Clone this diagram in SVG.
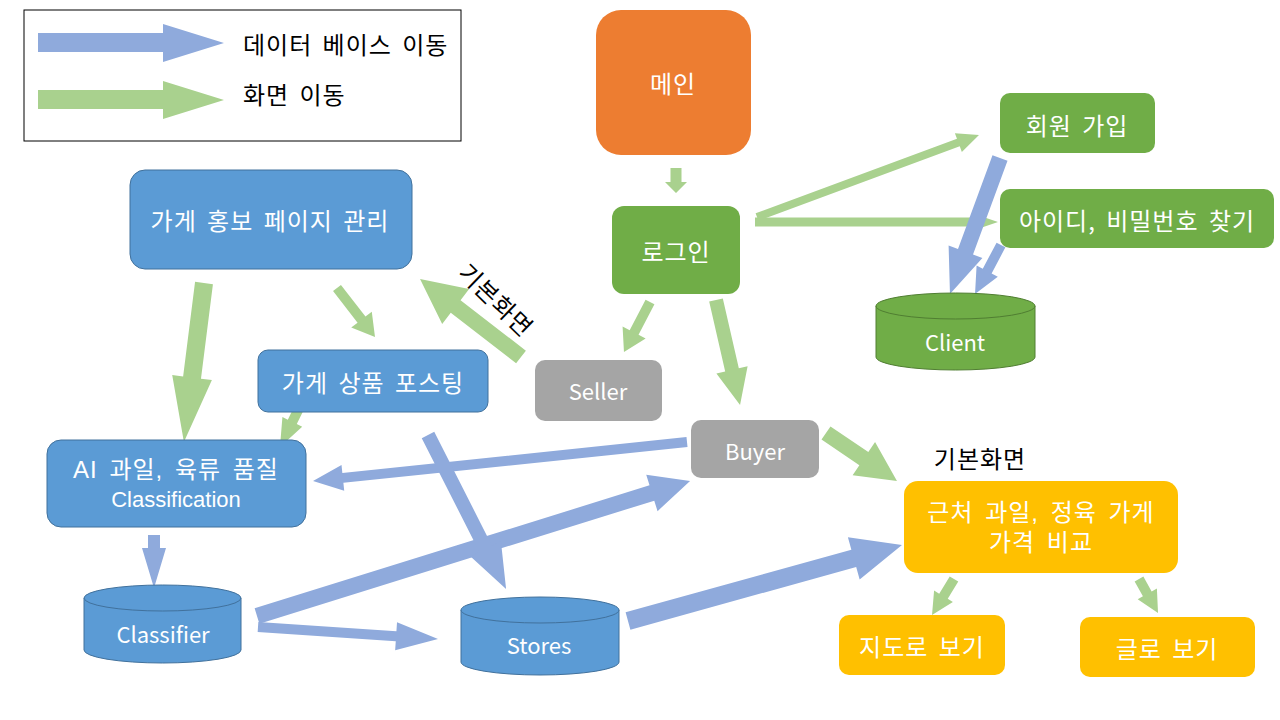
<svg xmlns="http://www.w3.org/2000/svg" width="1280" height="720" viewBox="0 0 1280 720">
<style>
text{font-family:"Noto Sans CJK KR","Noto Sans",sans-serif;font-size:24px;fill:#fff;text-anchor:middle;dominant-baseline:central;letter-spacing:1px;word-spacing:4px}
.two{font-family:"Liberation Sans","Noto Sans CJK KR",sans-serif}
.dark{fill:#000}
.lg{text-anchor:start}
.g{fill:#A9D18E}
.b{fill:#8FAADC}
.blue{fill:#5B9BD5;stroke:#41719C;stroke-width:1}
.green{fill:#70AD47}
.gcyl{fill:#70AD47;stroke:#507E32;stroke-width:1}
.orange{fill:#ED7D31}
.gray{fill:#A5A5A5}
.yellow{fill:#FFC000}
.lat{font-size:22px;letter-spacing:0;word-spacing:0}
</style>
<rect width="1280" height="720" fill="#fff"/>
<g id="legend">
<rect x="24" y="10" width="437" height="131" fill="#fff" stroke="#000" stroke-width="1"/>
<path class="b" d="M38,33 L163,33 L163,24 L224,43 L163,62 L163,52 L38,52Z"/>
<path class="g" d="M38,90 L163,90 L163,81 L224,100 L163,119 L163,109 L38,109Z"/>
<text class="dark lg" x="243" y="43">데이터 베이스 이동</text>
<text class="dark lg" x="243" y="93">화면 이동</text>
</g>
<g id="connectors">
<path class="g" transform="translate(676,168) rotate(90)" d="M0,-5.5 L14,-5.5 L14,-11 L25,0 L14,11 L14,5.5 L0,5.5Z"/>
<path class="g" transform="translate(650,302) rotate(117.5)" d="M0,-5 L34.4,-5 L34.4,-13 L56.4,0 L34.4,13 L34.4,5 L0,5Z"/>
<path class="g" transform="translate(716,300) rotate(77.1)" d="M0,-7 L71.7,-7 L71.7,-16 L107.7,0 L71.7,16 L71.7,7 L0,7Z"/>
<path class="g" transform="translate(757,217) rotate(-20.3)" d="M0,-4 L214.7,-4 L214.7,-10 L236.7,0 L214.7,10 L214.7,4 L0,4Z"/>
<path class="g" transform="translate(755,222)" d="M0,-4.5 L218,-4.5 L218,-8.5 L243,0 L218,8.5 L218,4.5 L0,4.5Z"/>
<path class="b" transform="translate(1000,158) rotate(110.2)" d="M0,-8 L99.9,-8 L99.9,-18 L144.9,0 L99.9,18 L99.9,8 L0,8Z"/>
<path class="b" transform="translate(1001,245) rotate(117.9)" d="M0,-5 L29.5,-5 L29.5,-12 L55.5,0 L29.5,12 L29.5,5 L0,5Z"/>
<path class="g" transform="translate(204,283) rotate(97.2)" d="M0,-9 L95.3,-9 L95.3,-20 L160.3,0 L95.3,20 L95.3,9 L0,9Z"/>
<path class="g" transform="translate(337,288) rotate(52.2)" d="M0,-5 L40,-5 L40,-13 L62,0 L40,13 L40,5 L0,5Z"/>
<path class="g" transform="translate(304,398) rotate(116.1)" d="M0,-5 L26.6,-5 L26.6,-11 L54.6,0 L26.6,11 L26.6,5 L0,5Z"/>
<path class="g" transform="translate(521,357) rotate(-142.3)" d="M0,-8 L82.6,-8 L82.6,-22 L127.6,0 L82.6,22 L82.6,8 L0,8Z"/>
<path class="b" transform="translate(687,442) rotate(174.05)" d="M0,-5 L346,-5 L346,-13 L376,0 L346,13 L346,5 L0,5Z"/>
<path class="b" transform="translate(257,616) rotate(-17.3)" d="M0,-8 L413.6,-8 L413.6,-19 L453.6,0 L413.6,19 L413.6,8 L0,8Z"/>
<path class="b" transform="translate(428,435) rotate(63.1)" d="M0,-7 L127.6,-7 L127.6,-17 L172.6,0 L127.6,17 L127.6,7 L0,7Z"/>
<path class="b" transform="translate(258,627) rotate(3.8)" d="M0,-5 L138.4,-5 L138.4,-14 L180.4,0 L138.4,14 L138.4,5 L0,5Z"/>
<path class="b" transform="translate(628,621) rotate(-15.5)" d="M0,-9 L234.3,-9 L234.3,-22 L284.3,0 L234.3,22 L234.3,9 L0,9Z"/>
<path class="b" transform="translate(154,535) rotate(90)" d="M0,-6 L13,-6 L13,-12 L53,0 L13,12 L13,6 L0,6Z"/>
<path class="g" transform="translate(826,433) rotate(34.1)" d="M0,-8 L45.7,-8 L45.7,-20 L85.7,0 L45.7,20 L45.7,8 L0,8Z"/>
<path class="g" transform="translate(954,579) rotate(121.4)" d="M0,-5 L20.2,-5 L20.2,-11 L42.2,0 L20.2,11 L20.2,5 L0,5Z"/>
<path class="g" transform="translate(1139,579) rotate(60.8)" d="M0,-5 L17,-5 L17,-11 L39,0 L17,11 L17,5 L0,5Z"/>
</g>
<g id="main"><rect class="orange" x="596" y="10" width="155" height="145" rx="25"/><text x="673" y="82">메인</text></g>
<g id="login"><rect class="green" x="612" y="206" width="128" height="88" rx="12"/><text x="676" y="250">로그인</text></g>
<g id="signup"><rect class="green" x="1000" y="93" width="155" height="60" rx="10"/><text x="1077" y="124">회원 가입</text></g>
<g id="findid"><rect class="green" x="1000" y="189" width="274" height="59" rx="10"/><text x="1137" y="219">아이디, 비밀번호 찾기</text></g>
<g id="client">
<path class="gcyl" d="M876,306 L876,357 A79.5,13 0 0 0 1035,357 L1035,306Z"/>
<ellipse class="gcyl" cx="955.5" cy="306" rx="79.5" ry="13"/>
<text class="lat" x="955" y="341">Client</text>
</g>
<g id="promo"><rect class="blue" x="130" y="170" width="282" height="99" rx="15"/><text x="270" y="219">가게 홍보 페이지 관리</text></g>
<g id="posting"><rect class="blue" x="258" y="350" width="230" height="62" rx="10"/><text x="373" y="381">가게 상품 포스팅</text></g>
<g id="ai"><rect class="blue" x="47" y="440" width="259" height="87" rx="14"/><text class="two" x="176" y="469">AI 과일, 육류 품질</text><text class="two lat" x="176" y="499">Classification</text></g>
<g id="classifier">
<path class="blue" d="M84,598 L84,650 A78.5,13 0 0 0 241,650 L241,598Z"/>
<ellipse class="blue" cx="162.5" cy="598" rx="78.5" ry="13"/>
<text class="lat" x="163" y="633">Classifier</text>
</g>
<g id="stores">
<path class="blue" d="M461,610 L461,662 A79,13 0 0 0 619,662 L619,610Z"/>
<ellipse class="blue" cx="540" cy="610" rx="79" ry="13"/>
<text class="lat" x="539" y="644">Stores</text>
</g>
<g id="seller"><rect class="gray" x="535" y="360" width="127" height="61" rx="10"/><text class="lat" x="598" y="390">Seller</text></g>
<g id="buyer"><rect class="gray" x="691" y="420" width="128" height="58" rx="10"/><text class="lat" x="755" y="450">Buyer</text></g>
<g id="compare"><rect class="yellow" x="904" y="481" width="274" height="92" rx="14"/><text class="two" x="1041" y="512">근처 과일, 정육 가게</text><text class="two" x="1041" y="542">가격 비교</text></g>
<g id="map"><rect class="yellow" x="839" y="615" width="166" height="60" rx="10"/><text x="922" y="645">지도로 보기</text></g>
<g id="textview"><rect class="yellow" x="1080" y="617" width="175" height="60" rx="10"/><text x="1167" y="647">글로 보기</text></g>
<g id="labels">
<text class="dark" x="980" y="457">기본화면</text>
<text class="dark" transform="translate(497,299) rotate(44)">기본화면</text>
</g>
</svg>
